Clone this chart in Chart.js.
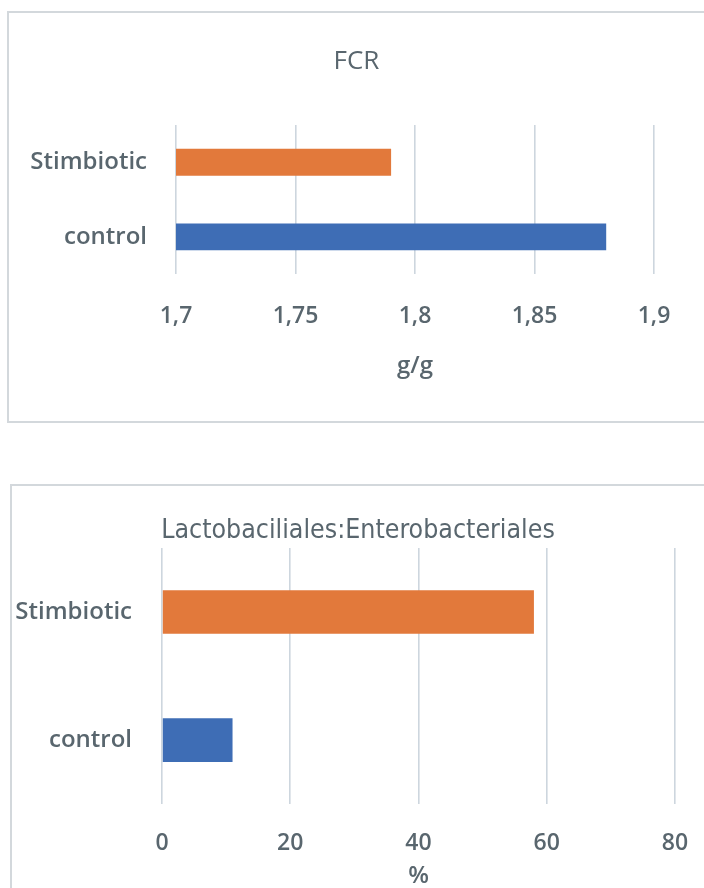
<!DOCTYPE html>
<html>
<head>
<meta charset="utf-8">
<script src="https://cdn.jsdelivr.net/npm/chart.js@4.4.1/dist/chart.umd.min.js"></script>
<style>
  html, body { margin: 0; padding: 0; background: #fff; overflow: hidden; width: 704px; height: 888px; }
  .box { position: absolute; border: 2px solid #d3d8dc; background: #fff; }
  #box-fcr { left: 7px; top: 11px; width: 720px; height: 408px; }
  #box-ratio { left: 10px; top: 484px; width: 720px; height: 420px; }
  canvas { display: block; }
</style>
</head>
<body>
<div class="box" id="box-fcr"><canvas id="chart-fcr" width="695" height="408"></canvas></div>
<div class="box" id="box-ratio"><canvas id="chart-ratio" width="692" height="410"></canvas></div>
<script>
const categories = ["Stimbiotic", "control"];
const bar_colors = ["#E2793B", "#3E6DB5"];

// FCR, g/g
const fcr_values = [1.79, 1.88];
const fcr_ticks = ["1,7", "1,75", "1,8", "1,85", "1,9"];

// Lactobaciliales:Enterobacteriales, %
const ratio_values = [58, 11];
const ratio_ticks = ["0", "20", "40", "60", "80"];

const text_color = "#59666e";
const grid_color = "#cdd6de";
const base_font = "'Open Sans', sans-serif";

Chart.defaults.color = text_color;
Chart.defaults.font.family = base_font;

function makeConfig(opts) {
  return {
    type: "bar",
    data: {
      labels: categories,
      datasets: [{
        data: opts.values,
        backgroundColor: bar_colors,
        borderWidth: 0,
        barPercentage: opts.barPct,
        categoryPercentage: 1
      }]
    },
    options: {
      indexAxis: "y",
      responsive: false,
      animation: false,
      devicePixelRatio: 1,
      layout: { padding: opts.padding },
      plugins: {
        legend: { display: false },
        tooltip: { enabled: false },
        title: {
          display: true,
          text: opts.title,
          color: text_color,
          font: opts.titleFont,
          padding: opts.titlePadding
        }
      },
      scales: {
        x: {
          min: opts.min,
          max: opts.max,
          border: { display: false },
          grid: { color: grid_color, lineWidth: 1.6, drawTicks: true, tickLength: opts.tickLength, tickColor: "rgba(0,0,0,0)" },
          ticks: {
            stepSize: opts.step,
            padding: 2,
            font: { size: 23, weight: 600 },
            callback: (v, i) => opts.tickLabels[i]
          },
          title: {
            display: true,
            text: opts.unit,
            font: { size: 24, weight: 600 },
            padding: { top: opts.unitPadTop, bottom: 0 }
          }
        },
        y: {
          border: { display: false },
          grid: { display: false, drawTicks: false },
          ticks: { padding: opts.labelGap, font: { size: 24, weight: 600 } },
          afterFit: (scale) => { scale.width = opts.axisWidth; }
        },
        // empty right-hand strip so the title stays centred on the whole box
        spacer: {
          type: "linear",
          axis: "y",
          position: "right",
          border: { display: false },
          grid: { display: false, drawTicks: false },
          ticks: { display: false },
          afterFit: (scale) => { scale.width = opts.rightGap; }
        }
      }
    }
  };
}

new Chart(document.getElementById("chart-fcr"), makeConfig({
  values: fcr_values,
  tickLabels: fcr_ticks,
  min: 1.7, max: 1.9, step: 0.05,
  title: "FCR",
  titleFont: { size: 26, weight: 500 },
  titlePadding: { top: 33, bottom: 47.8 },
  unit: "g/g",
  unitPadTop: 19.2,
  tickLength: 26.6,
  padding: { top: 0, left: 0, right: 0, bottom: 40.6 },
  rightGap: 50,
  axisWidth: 167,
  labelGap: 29,
  barPct: 0.36
}));

new Chart(document.getElementById("chart-ratio"), makeConfig({
  values: ratio_values,
  tickLabels: ratio_ticks,
  min: 0, max: 80, step: 20,
  title: "Lactobaciliales:Enterobacteriales",
  titleFont: { size: 26.5, weight: "normal", family: "'Liberation Sans Narrow', 'DejaVu Sans Condensed', sans-serif" },
  titlePadding: { top: 29.1, bottom: 1.1 },
  unit: "%",
  unitPadTop: 2.2,
  tickLength: 23.6,
  padding: { top: 0, left: 0, right: 0, bottom: 5.6 },
  rightGap: 29,
  axisWidth: 150,
  labelGap: 30,
  barPct: 0.34
}));
</script>
</body>
</html>
